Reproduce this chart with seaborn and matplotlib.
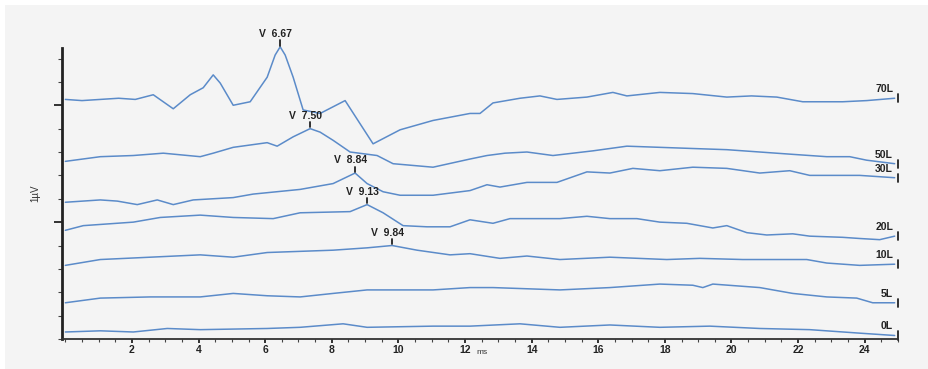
import numpy as np
import pandas as pd
import seaborn as sns
import matplotlib.pyplot as plt
from matplotlib.patches import Rectangle
from matplotlib.ticker import MultipleLocator

# traces: latency (ms) and amplitude (uV, stacked)
t_70 = [0, 0.5, 1.05, 1.6, 2.1, 2.64, 3.24, 3.75, 4.14, 4.44, 4.65, 5.04, 5.55, 6.06, 6.3, 6.45,
        6.6, 6.84, 7.14, 7.65, 8.4, 9.24, 10.05, 11.04, 12.15, 12.45, 12.84, 13.65, 14.25,
        14.76, 15.66, 16.44, 16.86, 17.85, 18.84, 19.86, 20.6, 21.36, 22.14, 23.34, 24.06, 24.9]
v_70 = [2.05, 2.04, 2.05, 2.06, 2.05, 2.09, 1.97, 2.09, 2.15, 2.26, 2.19, 2.0, 2.03, 2.24, 2.43, 2.50,
        2.43, 2.24, 1.96, 1.93, 2.04, 1.67, 1.79, 1.87, 1.93, 1.93, 2.02, 2.06, 2.08,
        2.05, 2.07, 2.11, 2.08, 2.11, 2.10, 2.07, 2.08, 2.07, 2.03, 2.03, 2.04, 2.06]

t_50 = [0, 1.05, 2.04, 2.94, 4.05, 4.44, 5.04, 6.06, 6.36, 6.84, 7.35, 7.65, 8.04, 8.55, 9.36,
        9.84, 11.04, 12.15, 12.66, 13.2, 13.86, 14.64, 15.84, 16.86, 17.85, 18.84, 19.86, 20.85,
        21.84, 22.86, 23.55, 24.06, 24.9]
v_50 = [1.52, 1.56, 1.57, 1.59, 1.56, 1.59, 1.64, 1.68, 1.65, 1.73, 1.80, 1.77, 1.70, 1.60, 1.57,
        1.50, 1.47, 1.54, 1.57, 1.59, 1.60, 1.57, 1.61, 1.65, 1.64, 1.63, 1.62, 1.60,
        1.58, 1.56, 1.56, 1.53, 1.50]

t_30 = [0, 1.05, 1.56, 2.16, 2.76, 3.24, 3.84, 5.04, 5.64, 7.05, 8.04, 8.7, 9.06, 9.54, 10.05,
        11.04, 12.15, 12.66, 13.05, 13.86, 14.76, 15.66, 16.35, 17.04, 17.85, 18.84, 19.86,
        20.85, 21.75, 22.35, 23.85, 24.9]
v_30 = [1.17, 1.19, 1.18, 1.15, 1.19, 1.15, 1.19, 1.21, 1.24, 1.28, 1.33, 1.42, 1.33, 1.26, 1.23,
        1.23, 1.27, 1.32, 1.30, 1.34, 1.34, 1.43, 1.42, 1.46, 1.44, 1.47, 1.46,
        1.42, 1.44, 1.40, 1.40, 1.38]

t_20 = [0, 0.54, 2.04, 2.85, 4.05, 5.04, 6.24, 7.05, 8.55, 9.06, 9.54, 10.14, 10.86, 11.55, 12.15,
        12.84, 13.35, 14.85, 15.66, 16.35, 17.16, 17.85, 18.66, 19.44, 19.86, 20.46, 21.06,
        21.84, 22.35, 23.34, 23.85, 24.45, 24.9]
v_20 = [0.93, 0.97, 1.0, 1.04, 1.06, 1.04, 1.03, 1.08, 1.09, 1.15, 1.08, 0.97, 0.96, 0.96, 1.02,
        0.99, 1.03, 1.03, 1.05, 1.03, 1.03, 1.0, 0.99, 0.95, 0.97, 0.91, 0.89,
        0.90, 0.88, 0.87, 0.86, 0.85, 0.88]

t_10 = [0, 1.05, 2.55, 4.05, 5.04, 6.06, 8.04, 9.06, 9.81, 10.56, 11.55, 12.15, 13.05, 13.86,
        14.85, 16.35, 18.06, 19.05, 20.34, 21.84, 22.26, 22.86, 23.85, 24.9]
v_10 = [0.63, 0.68, 0.70, 0.72, 0.70, 0.74, 0.76, 0.78, 0.80, 0.76, 0.72, 0.73, 0.69, 0.71,
        0.68, 0.70, 0.68, 0.69, 0.68, 0.68, 0.68, 0.65, 0.63, 0.64]

t_5 = [0, 1.05, 2.55, 4.05, 5.04, 6.06, 7.05, 8.04, 9.06, 11.04, 12.15, 12.84, 14.85, 16.35,
       17.85, 18.84, 19.14, 19.44, 20.85, 21.84, 22.86, 23.76, 24.24, 24.9]
v_5 = [0.31, 0.35, 0.36, 0.36, 0.39, 0.37, 0.36, 0.39, 0.42, 0.42, 0.44, 0.44, 0.42, 0.44,
       0.47, 0.46, 0.44, 0.47, 0.44, 0.39, 0.36, 0.35, 0.31, 0.31]

t_0 = [0, 1.05, 2.04, 3.06, 4.05, 6.06, 7.05, 8.34, 9.06, 11.04, 12.15, 13.65, 14.85, 16.35,
       17.85, 19.35, 20.85, 22.35, 23.85, 24.9]
v_0 = [0.06, 0.07, 0.06, 0.09, 0.08, 0.09, 0.10, 0.13, 0.10, 0.11, 0.11, 0.13, 0.10, 0.12,
       0.10, 0.11, 0.09, 0.08, 0.05, 0.03]

levels = ['70L', '50L', '30L', '20L', '10L', '5L', '0L']
times = [t_70, t_50, t_30, t_20, t_10, t_5, t_0]
values = [v_70, v_50, v_30, v_20, v_10, v_5, v_0]

# wave V markers
peak_levels = ['70L', '50L', '30L', '20L', '10L']
peak_ms = [6.45, 7.35, 8.7, 9.06, 9.81]
peak_text = ['V  6.67', 'V  7.50', 'V  8.84', 'V  9.13', 'V  9.84']

line_color = '#5b8bc9'
bg = '#f4f4f4'
ink = '#222222'

rows = []
for lev, t, v in zip(levels, times, values):
    for a, b in zip(t, v):
        rows.append((lev, a, b))
df = pd.DataFrame(rows, columns=['level', 'ms', 'uV'])

sns.set_theme(style='ticks')
plt.rcParams['font.family'] = ['Liberation Sans', 'DejaVu Sans']

fig = plt.figure(figsize=(9.29, 3.69), dpi=100, facecolor='white')
fig.patches.append(Rectangle((5 / 929, 0), 1, 1 - 5 / 369, transform=fig.transFigure,
                             facecolor=bg, edgecolor='none', zorder=-10))
ax = fig.add_axes([62 / 929, 30 / 369, 836 / 929, 291 / 369])
ax.set_facecolor(bg)

sns.lineplot(data=df, x='ms', y='uV', hue='level', palette=[line_color] * len(levels),
             estimator=None, sort=False, legend=False, linewidth=1.1, ax=ax)
for l in ax.lines:
    l.set_clip_on(False)

ax.set_xlim(-0.1, 25)
ax.set_ylim(0, 2.49)

# level labels and end tick of each trace
for lev, t, v in zip(levels, times, values):
    ax.plot([25, 25], [v[-1] - 0.035, v[-1] + 0.035], color=ink, lw=1.3, clip_on=False)
    ax.annotate(lev, (24.85, v[-1]), xytext=(0, 3), textcoords='offset points',
                ha='right', va='bottom', fontsize=7.5, fontweight='bold', color=ink,
                annotation_clip=False)

# wave V labels
for lev, pm, txt in zip(peak_levels, peak_ms, peak_text):
    i = levels.index(lev)
    py = np.interp(pm, times[i], values[i])
    ax.plot([pm, pm], [py + 0.01, py + 0.055], color=ink, lw=1.3, clip_on=False)
    ax.annotate(txt, (pm, py + 0.055), xytext=(-3, 1), textcoords='offset points',
                ha='center', va='bottom', fontsize=7.5, fontweight='bold', color=ink,
                annotation_clip=False)

sns.despine(ax=ax)
ax.spines['left'].set_linewidth(2)
ax.spines['left'].set_color(ink)
ax.spines['bottom'].set_linewidth(1.3)
ax.spines['bottom'].set_color('#333333')

ax.set_xticks(np.arange(2, 25, 2))
ax.xaxis.set_minor_locator(MultipleLocator(0.5))
ax.set_yticks([1, 2])
ax.set_yticklabels([])
ax.yaxis.set_minor_locator(MultipleLocator(0.2))
ax.tick_params(axis='x', which='major', length=3, width=1.3, pad=1, labelsize=7.5,
               colors=ink)
ax.tick_params(axis='x', which='minor', length=2, width=0.8, colors='#444444')
ax.tick_params(axis='y', which='major', length=6, width=1.3, colors=ink)
ax.tick_params(axis='y', which='minor', length=3, width=0.8, colors='#444444')
for lab in ax.get_xticklabels():
    lab.set_fontweight('bold')

ax.set_xlabel('')
ax.set_ylabel('')
fig.text(482 / 929, 1 - 353 / 369, 'ms', fontsize=6, ha='center', va='center', color='#333333')
fig.text(35 / 929, 1 - 193 / 369, '1µV', fontsize=7, rotation=90, ha='center', va='center',
         color='#333333')

fig.savefig('out.png', dpi=100, facecolor=fig.get_facecolor())
